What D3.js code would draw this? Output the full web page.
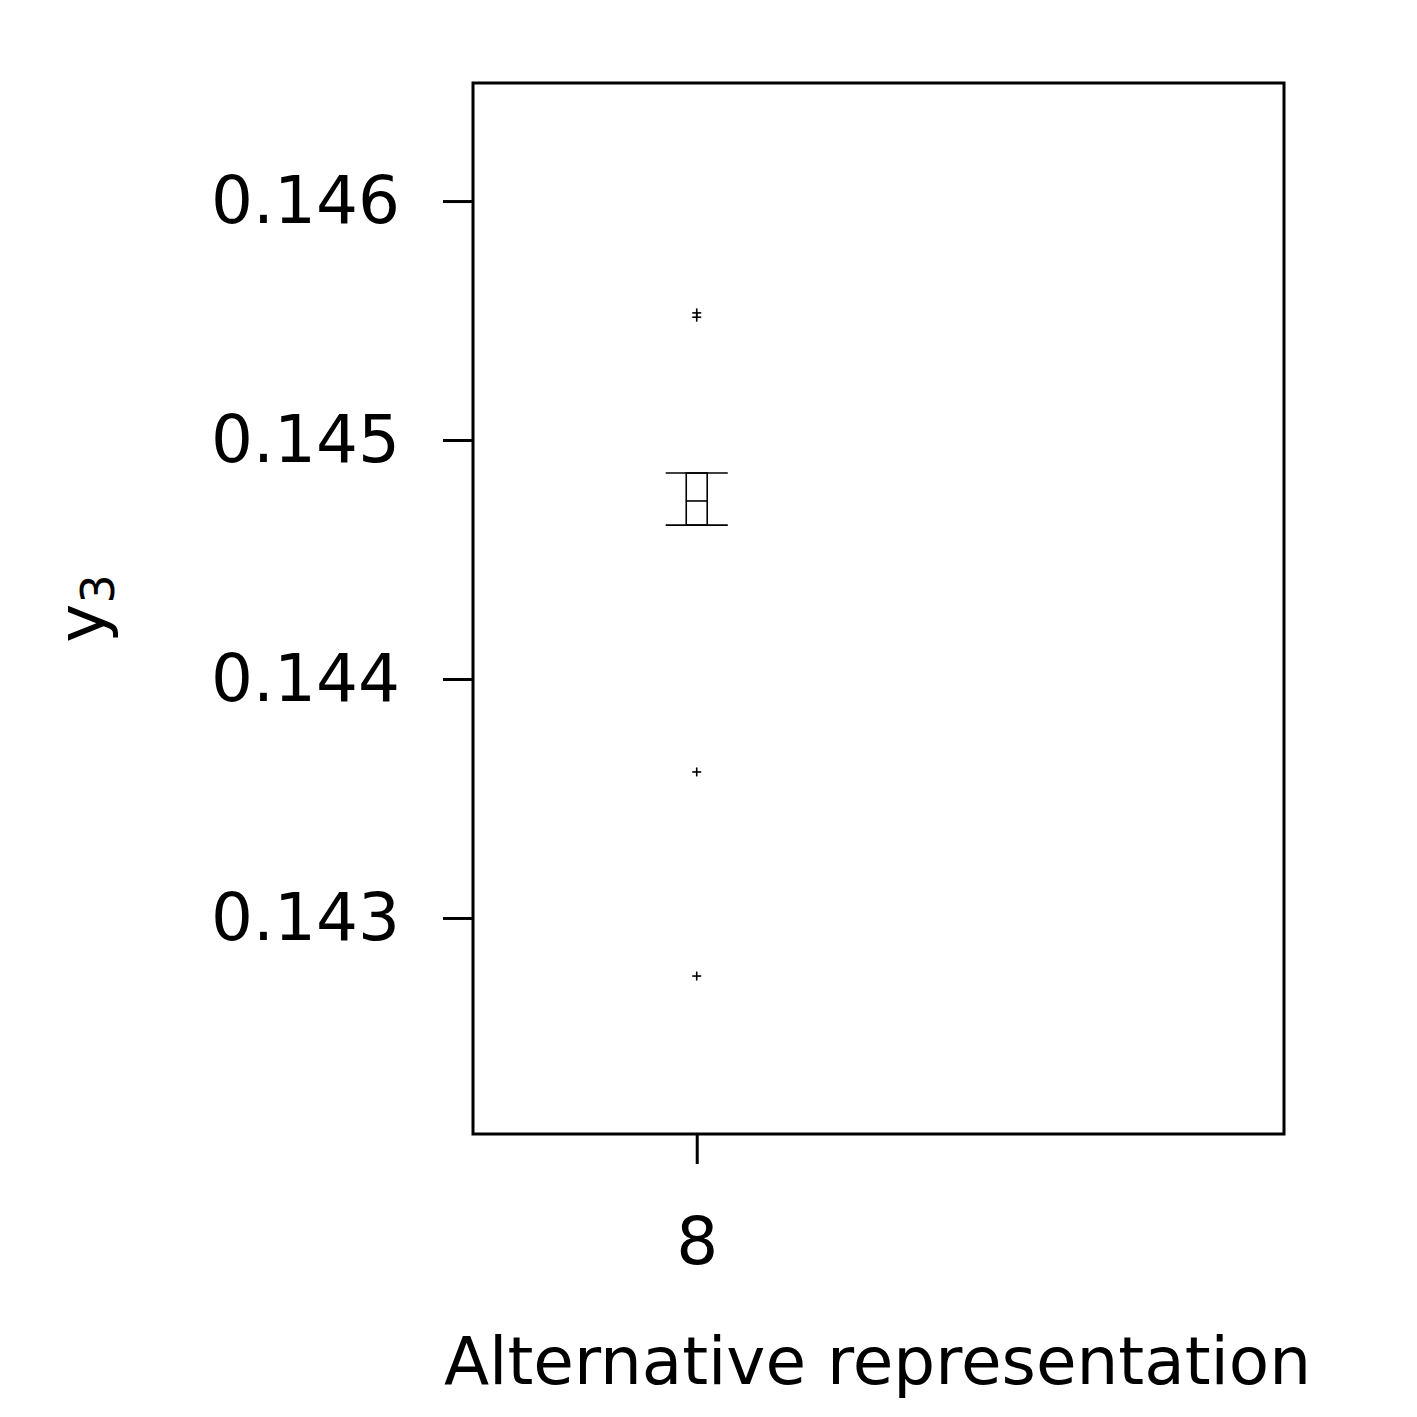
<!DOCTYPE html>
<html>
<head>
<meta charset="utf-8">
<script src="https://cdn.jsdelivr.net/npm/d3@7"></script>
<style>
  html, body { margin: 0; padding: 0; background: #fff; }
  text { font-family: "DejaVu Sans", sans-serif; fill: #000; }
</style>
</head>
<body>
<svg id="chart" width="1417" height="1417"></svg>
<script>
// box summary per representation
const categories = [8];
const q1Values = [0.144644];
const medianValues = [0.144745];
const q3Values = [0.144862];
const whiskerLow = [0.144644];
const whiskerHigh = [0.144862];
const outlierValues = [[0.145532, 0.145514, 0.143611, 0.142757]];
const yTicks = [0.143, 0.144, 0.145, 0.146];

const margin = { top: 83, right: 133, bottom: 283, left: 473 };
const width = 1417 - margin.left - margin.right;
const height = 1417 - margin.top - margin.bottom;

const svg = d3.select("#chart");
const g = svg.append("g").attr("transform", `translate(${margin.left},${margin.top})`);

const x = d3.scaleLinear().domain([7.2, 10.1]).range([0, width]);
const y = d3.scaleLinear().domain([0.142096, 0.146494]).range([height, 0]);

const boxHalf = 0.0375;
const capHalf = 0.111;

// axes
const yAxis = g.append("g")
    .call(d3.axisLeft(y).tickValues(yTicks).tickFormat(d3.format(".3f")).tickSizeOuter(0).tickSize(30).tickPadding(43));
const xAxis = g.append("g")
    .attr("transform", `translate(0,${height})`)
    .call(d3.axisBottom(x).tickValues(categories).tickFormat(d3.format("d")).tickSizeOuter(0).tickSize(30).tickPadding(53));

[yAxis, xAxis].forEach(ax => {
    ax.select(".domain").remove();
    ax.selectAll(".tick line").attr("stroke", "#000").attr("stroke-width", 3);
    ax.selectAll(".tick text").style("font-size", "66px").attr("fill", "#000");
});

// boxes
const boxes = g.append("g").selectAll("g")
    .data(categories)
    .enter().append("g");

boxes.each(function(c, i) {
    const b = d3.select(this);
    const line = (x1, y1, x2, y2) => b.append("line")
        .attr("x1", x1).attr("y1", y1).attr("x2", x2).attr("y2", y2)
        .attr("stroke", "#000").attr("stroke-width", 1.6);
    b.append("rect")
        .attr("x", x(c - boxHalf))
        .attr("y", y(q3Values[i]))
        .attr("width", x(c + boxHalf) - x(c - boxHalf))
        .attr("height", y(q1Values[i]) - y(q3Values[i]))
        .attr("fill", "none")
        .attr("stroke", "#000")
        .attr("stroke-width", 1.6);
    line(x(c - boxHalf), y(medianValues[i]), x(c + boxHalf), y(medianValues[i]));
    line(x(c), y(q3Values[i]), x(c), y(whiskerHigh[i]));
    line(x(c), y(q1Values[i]), x(c), y(whiskerLow[i]));
    line(x(c - capHalf), y(whiskerHigh[i]), x(c + capHalf), y(whiskerHigh[i]));
    line(x(c - capHalf), y(whiskerLow[i]), x(c + capHalf), y(whiskerLow[i]));

    outlierValues[i].forEach(v => {
        line(x(c) - 4.5, y(v), x(c) + 4.5, y(v));
        line(x(c), y(v) - 4.5, x(c), y(v) + 4.5);
    });
});

// frame
g.append("rect")
    .attr("width", width)
    .attr("height", height)
    .attr("fill", "none")
    .attr("stroke", "#000")
    .attr("stroke-width", 3);

// labels
svg.append("text")
    .attr("x", margin.left + width / 2 - 1)
    .attr("y", 1384)
    .attr("text-anchor", "middle")
    .style("font-size", "66px")
    .text("Alternative representation");

const yl = svg.append("text")
    .attr("transform", `translate(104,${margin.top + height / 2}) rotate(-90)`)
    .attr("text-anchor", "middle")
    .style("font-size", "66px");
yl.append("tspan").text("y");
yl.append("tspan").attr("baseline-shift", "-22%").style("font-size", "46px").text("3");
</script>
</body>
</html>
